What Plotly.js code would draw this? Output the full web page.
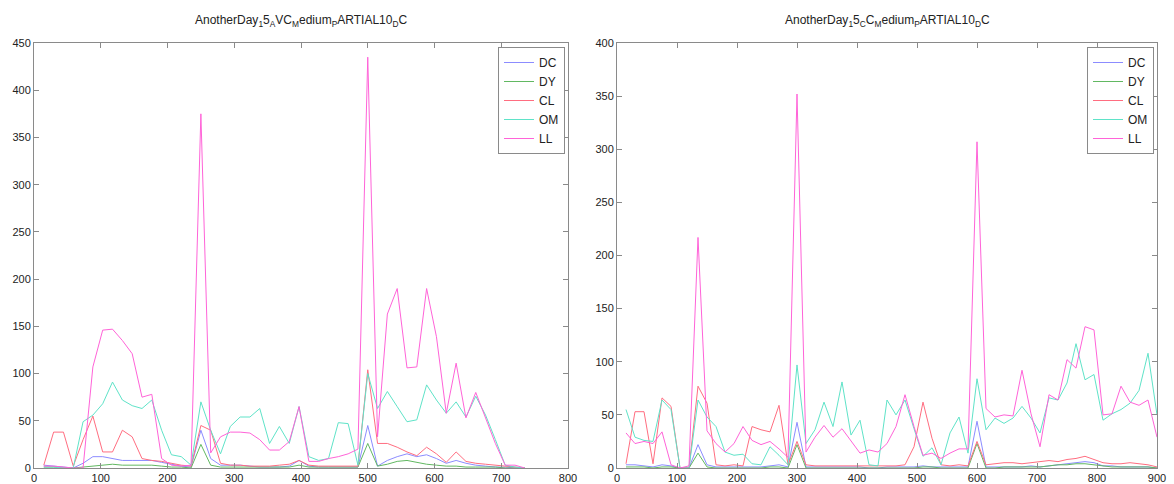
<!DOCTYPE html>
<html>
<head>
<meta charset="utf-8">
<script src="https://cdn.plot.ly/plotly-3.0.1.min.js"></script>
<style>
html,body{margin:0;padding:0;background:#fff;}
#chart{width:1174px;height:484px;}
</style>
</head>
<body>
<div id="chart"></div>
<script>
// ---------- data ----------
const seriesNames = ["DC", "DY", "CL", "OM", "LL"];
const seriesColors = ["#8c8cff", "#62b862", "#ff6d80", "#5fe3c8", "#ff63d8"];

const leftTitle = "AnotherDay<sub>1</sub>5<sub>A</sub>VC<sub>M</sub>edium<sub>P</sub>ARTIAL10<sub>D</sub>C";
const rightTitle = "AnotherDay<sub>1</sub>5<sub>C</sub>C<sub>M</sub>edium<sub>P</sub>ARTIAL10<sub>D</sub>C";

const leftX = [14.7, 29.4, 44.1, 58.8, 73.5, 88.2, 102.9, 117.6, 132.4, 147.1,
  161.8, 176.5, 191.2, 205.9, 220.6, 235.3, 250, 264.7, 279.4, 294.1,
  308.8, 323.5, 338.2, 352.9, 367.6, 382.4, 397.1, 411.8, 426.5, 441.2,
  455.9, 470.6, 485.3, 500, 514.7, 529.4, 544.1, 558.8, 573.5, 588.2,
  602.9, 617.6, 632.4, 647.1, 661.8, 676.5, 691.2, 705.9, 720.6, 735.3];

const leftDC = [3, 2, 1, 0, 5, 12, 12, 10, 8, 8, 8, 8, 6, 4, 2, 1, 40, 10, 3, 3,
  3, 2, 1, 1, 1, 2, 8, 2, 1, 1, 1, 1, 1, 45, 2, 8, 12, 15, 12, 14,
  10, 5, 8, 5, 3, 2, 1, 1, 0, 0];
const leftDY = [1, 1, 0, 0, 1, 2, 3, 4, 3, 3, 3, 3, 2, 1, 1, 0, 25, 3, 1, 1,
  1, 1, 1, 1, 1, 1, 3, 1, 1, 1, 1, 1, 1, 26, 2, 4, 7, 8, 6, 4,
  3, 2, 2, 1, 1, 1, 1, 0, 0, 0];
const leftCL = [3, 38, 38, 2, 30, 55, 17, 17, 40, 33, 10, 8, 7, 5, 3, 2, 45, 40, 5, 3,
  3, 2, 2, 2, 3, 4, 8, 3, 2, 2, 2, 2, 2, 104, 26, 26, 22, 17, 13, 22,
  15, 6, 17, 7, 5, 4, 3, 2, 1, 0];
const leftOM = [1, 1, 0, 0, 49, 56, 68, 91, 72, 66, 63, 72, 40, 14, 12, 3, 70, 40, 15, 44,
  54, 54, 63, 26, 44, 26, 65, 12, 8, 10, 48, 47, 3, 100, 63, 81, 65, 49, 51, 88,
  72, 58, 70, 54, 76, 56, 30, 3, 1, 0];
const leftLL = [2, 2, 1, 0, 0, 107, 146, 147, 135, 121, 75, 78, 10, 3, 2, 3, 375, 16, 33, 38,
  38, 37, 30, 19, 19, 28, 65, 7, 7, 10, 12, 15, 20, 435, 33, 163, 190, 106, 107, 190,
  139, 58, 111, 53, 80, 53, 26, 3, 3, 0];

const rightX = [15, 30, 45, 60, 75, 90, 105, 120, 135, 150, 165, 180, 195, 210, 225,
  240, 255, 270, 285, 300, 315, 330, 345, 360, 375, 390, 405, 420, 435, 450,
  465, 480, 495, 510, 525, 540, 555, 570, 585, 600, 615, 630, 645, 660, 675,
  690, 705, 720, 735, 750, 765, 780, 795, 810, 825, 840, 855, 870, 885, 900];

const rightDC = [3, 3, 2, 1, 3, 2, 0, 0, 22, 3, 1, 1, 1, 1, 1, 1, 2, 3, 1, 43,
  1, 1, 1, 1, 1, 1, 1, 0, 0, 1, 1, 1, 1, 2, 1, 1, 1, 1, 1, 44,
  1, 1, 1, 1, 1, 2, 1, 2, 3, 4, 5, 6, 5, 2, 2, 1, 1, 1, 1, 0];
const rightDY = [1, 1, 1, 0, 1, 1, 0, 0, 14, 1, 0, 0, 0, 0, 0, 0, 1, 1, 0, 22,
  0, 0, 0, 0, 0, 0, 0, 0, 0, 0, 0, 0, 0, 1, 1, 0, 0, 0, 0, 23,
  0, 0, 1, 1, 1, 1, 1, 2, 3, 3, 4, 4, 3, 2, 1, 1, 1, 1, 1, 0];
const rightCL = [4, 53, 53, 4, 66, 58, 0, 0, 77, 61, 3, 2, 3, 2, 39, 36, 34, 59, 3, 25,
  3, 2, 2, 2, 2, 2, 2, 2, 2, 2, 2, 3, 20, 62, 28, 3, 2, 3, 2, 25,
  3, 4, 5, 5, 4, 5, 6, 7, 6, 8, 9, 11, 8, 5, 4, 4, 5, 4, 3, 1];
const rightOM = [55, 29, 26, 25, 64, 55, 0, 0, 64, 48, 39, 15, 12, 13, 4, 3, 20, 12, 3, 97,
  23, 36, 62, 39, 81, 31, 45, 3, 2, 64, 50, 64, 37, 11, 19, 3, 33, 48, 14, 84,
  36, 47, 42, 47, 58, 47, 33, 66, 64, 80, 117, 83, 88, 45, 51, 55, 61, 73, 108, 50];
const rightLL = [33, 23, 25, 23, 34, 3, 0, 2, 217, 35, 23, 15, 23, 39, 26, 22, 25, 18, 10, 352,
  15, 29, 40, 29, 37, 26, 14, 17, 15, 23, 39, 69, 39, 12, 14, 9, 14, 18, 18, 307,
  56, 48, 50, 49, 92, 51, 20, 69, 64, 102, 94, 133, 130, 50, 51, 77, 62, 59, 64, 29];

const leftYTicks = [0, 50, 100, 150, 200, 250, 300, 350, 400, 450];
const rightYTicks = [0, 50, 100, 150, 200, 250, 300, 350, 400];
const leftXTicks = [0, 100, 200, 300, 400, 500, 600, 700, 800];
const rightXTicks = [0, 100, 200, 300, 400, 500, 600, 700, 800, 900];

// ---------- traces ----------
const leftSeries = [leftDC, leftDY, leftCL, leftOM, leftLL];
const rightSeries = [rightDC, rightDY, rightCL, rightOM, rightLL];
const traces = [];
leftSeries.forEach((ys, k) => traces.push({
  x: leftX, y: ys, type: "scatter", mode: "lines", name: seriesNames[k],
  line: {color: seriesColors[k], width: 1}, xaxis: "x", yaxis: "y", legend: "legend"
}));
rightSeries.forEach((ys, k) => traces.push({
  x: rightX, y: ys, type: "scatter", mode: "lines", name: seriesNames[k],
  line: {color: seriesColors[k], width: 1}, xaxis: "x2", yaxis: "y2", legend: "legend2"
}));

const W = 1174, H = 484, T = 43, B = 16;
const PH = H - T - B;
const font = {family: "Liberation Sans, Arial, sans-serif", size: 11, color: "#222"};
function axis(extra) {
  return Object.assign({
    showgrid: false, zeroline: false, showline: true, linecolor: "#8a8a8a", linewidth: 1,
    mirror: "ticks", ticks: "inside", ticklen: 5, tickcolor: "#8a8a8a",
    tickfont: {family: font.family, size: 11, color: "#222"}, fixedrange: true
  }, extra);
}
const legendBase = {
  y: 1 - 4 / PH, yanchor: "top", xanchor: "right",
  bgcolor: "#fff", bordercolor: "#8a8a8a", borderwidth: 1,
  font: {family: font.family, size: 12, color: "#222"}, tracegroupgap: 0
};

const layout = {
  width: W, height: H,
  margin: {l: 0, r: 0, t: T, b: B, pad: 0},
  paper_bgcolor: "#fff", plot_bgcolor: "#fff",
  font: font, showlegend: true,
  xaxis: axis({domain: [34 / W, 568 / W], range: [0, 800], tickvals: leftXTicks, anchor: "y"}),
  yaxis: axis({range: [0, 450], tickvals: leftYTicks, anchor: "x"}),
  xaxis2: axis({domain: [617 / W, 1157 / W], range: [0, 900], tickvals: rightXTicks, anchor: "y2"}),
  yaxis2: axis({range: [0, 400], tickvals: rightYTicks, anchor: "x2"}),
  legend: Object.assign({x: 565 / W}, legendBase),
  legend2: Object.assign({x: 1154 / W}, legendBase),
  annotations: [
    {text: leftTitle, xref: "paper", yref: "paper", x: (34 + 568) / 2 / W, y: 1 + 22 / PH,
     xanchor: "center", yanchor: "middle", showarrow: false, font: {family: font.family, size: 12, color: "#222"}},
    {text: rightTitle, xref: "paper", yref: "paper", x: (617 + 1157) / 2 / W, y: 1 + 22 / PH,
     xanchor: "center", yanchor: "middle", showarrow: false, font: {family: font.family, size: 12, color: "#222"}}
  ]
};

Plotly.newPlot("chart", traces, layout, {displayModeBar: false, staticPlot: true});
</script>
</body>
</html>
